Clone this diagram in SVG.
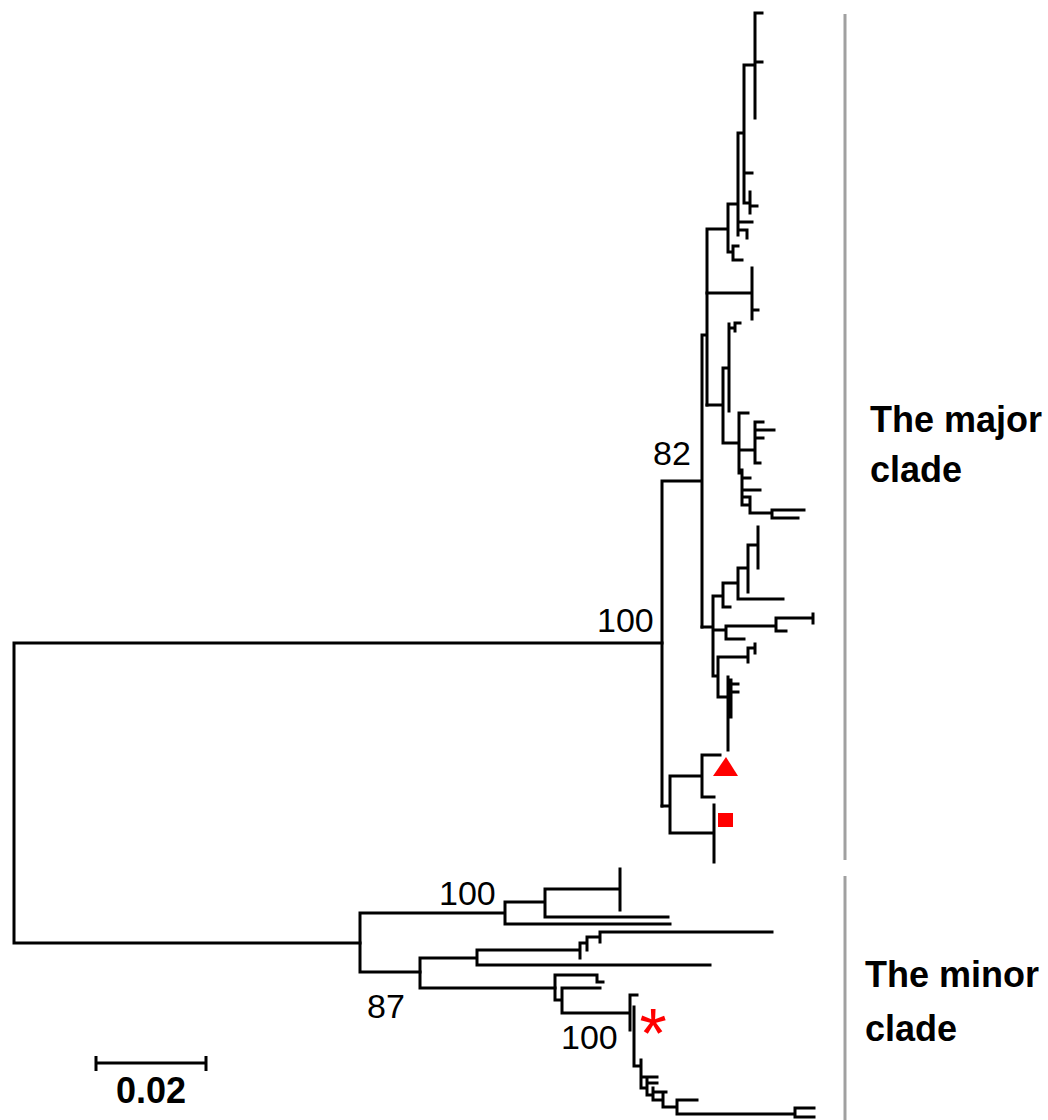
<svg xmlns="http://www.w3.org/2000/svg" width="1048" height="1120" viewBox="0 0 1048 1120">
<style>
.br{fill:none;stroke:#000;stroke-width:3;stroke-linecap:square}
.bar{fill:none;stroke:#a0a0a0;stroke-width:3}
.sup{font-family:"Liberation Sans",Arial,sans-serif;font-size:34px;fill:#000}
.lab{font-family:"Liberation Sans",Arial,sans-serif;font-size:36px;font-weight:bold;fill:#000}
.red{fill:#ff0000}
</style>
<rect width="1048" height="1120" fill="#fff"/>
<g id="connectors">
<g id="root">
<path class="br" d="M14,643 V943 M14,643 H662 M14,943 H360"/>
</g>
<g id="major-clade">
<path class="br" d="M662,481 V806 M662,481 H702 M702,335 V627 M702,335 H707 M707,229 V405 M707,229 H728 M728,204 V252 M728,204 H738 M738,133 V235 M738,133 H744 M744,65 V203 M744,65 H755 M755,13 V118 M755,13 H762 M755,62 H762 M744,173 H752 M744,203 H750 M750,192 V213 M750,206 H757 M738,222 H752 M738,230 H747 M747,230 V238 M728,252 H733 M733,246 V260 M733,246 H738 M733,260 H742"/>
<path class="br" d="M707,293 H752 M752,268 V319 M752,310 H758 M707,405 H723 M723,368 V443 M723,368 H729 M729,324 V411 M729,328 H735 M735,323 V331 M735,323 H740 M723,443 H739 M739,413 V473 M739,413 H748 M739,450 H755 M755,422 V463 M755,422 H763 M755,430 H774 M755,438 H763 M755,463 H760 M739,473 H742 M742,470 V505 M742,478 H750 M742,490 H760 M742,497 H750 M742,505 H750 M750,497 V513 M750,513 H772 M772,510 V518 M772,510 H804 M772,518 H798"/>
<path class="br" d="M702,627 H713 M713,596 V676 M713,596 H723 M723,583 V607 M723,607 H730 M723,583 H738 M738,568 V599 M738,599 H783 M738,568 H748 M748,545 V592 M748,545 H758 M758,527 V568 M713,630 H726 M726,626 V639 M726,626 H776 M776,618 V631 M776,618 H813 M813,614 V623 M776,631 H786 M726,639 H744 M713,676 H718 M718,657 V697 M718,657 H748 M748,648 V662 M748,648 H755 M755,644 V653 M718,697 H728 M728,677 V750 M731,680 V717 M728,684 H738 M728,692 H738"/>
<path class="br" d="M662,806 H670 M670,776 V833 M670,776 H702 M702,755 V797 M702,755 H720 M702,797 H714 M670,833 H714 M714,805 V862"/>
</g>
<g id="minor-clade">
<path class="br" d="M360,913 V972 M360,913 H505 M360,972 H420 M505,902 V924 M505,902 H545 M505,924 H670 M545,889 V917 M545,889 H620 M545,917 H668 M620,869 V910"/>
<path class="br" d="M420,958 V988 M420,958 H477 M420,988 H555 M477,950 V965 M477,950 H580 M477,965 H710 M580,943 V958 M580,943 H587 M587,937 V950 M587,937 H600 M600,932 V942 M600,932 H772"/>
<path class="br" d="M555,975 V1000 M555,975 H597 M597,975 V982 M597,982 H603 M555,1000 H562 M562,988 V1013 M562,988 H600 M562,1013 H630 M630,995 V1030 M630,995 H637 M634,1007 V1066 M634,1066 H641 M641,1060 V1088 M641,1077 H657 M641,1088 H647 M647,1080 V1095 M647,1083 H657 M647,1095 H653 M653,1088 V1100 M653,1092 H666 M653,1100 H663 M663,1093 V1107 M663,1107 H677 M677,1100 V1114 M677,1100 H697 M677,1114 H795 M795,1108 V1117 M795,1108 H814 M795,1117 H814"/>
</g>
</g>
<g id="support-values">
<text class="sup" x="653" y="465">82</text>
<text class="sup" x="597" y="632">100</text>
<text class="sup" x="439" y="905">100</text>
<text class="sup" x="367" y="1018">87</text>
<text class="sup" x="561" y="1049">100</text>
</g>
<g id="markers">
<polygon id="triangle" class="red" points="726,757 713,776 738,776"/>
<rect id="square" class="red" x="718" y="813" width="15" height="14"/>
<text id="asterisk" class="red" x="653" y="1058" font-family="Liberation Sans, Arial, sans-serif" font-size="70" text-anchor="middle">*</text>
</g>
<g id="major-clade-label">
<path class="bar" d="M845,14 V860"/>
<text class="lab" x="870" y="432">The major</text>
<text class="lab" x="870" y="482">clade</text>
</g>
<g id="minor-clade-label">
<path class="bar" d="M845,876 V1120"/>
<text class="lab" x="865" y="987">The minor</text>
<text class="lab" x="865" y="1041">clade</text>
</g>
<g id="scale-bar">
<path class="br" d="M96,1063 H206 M96,1056 V1071 M206,1056 V1071" style="stroke-linecap:butt"/>
<text class="lab" x="151" y="1103" font-size="37" text-anchor="middle">0.02</text>
</g>
</svg>
